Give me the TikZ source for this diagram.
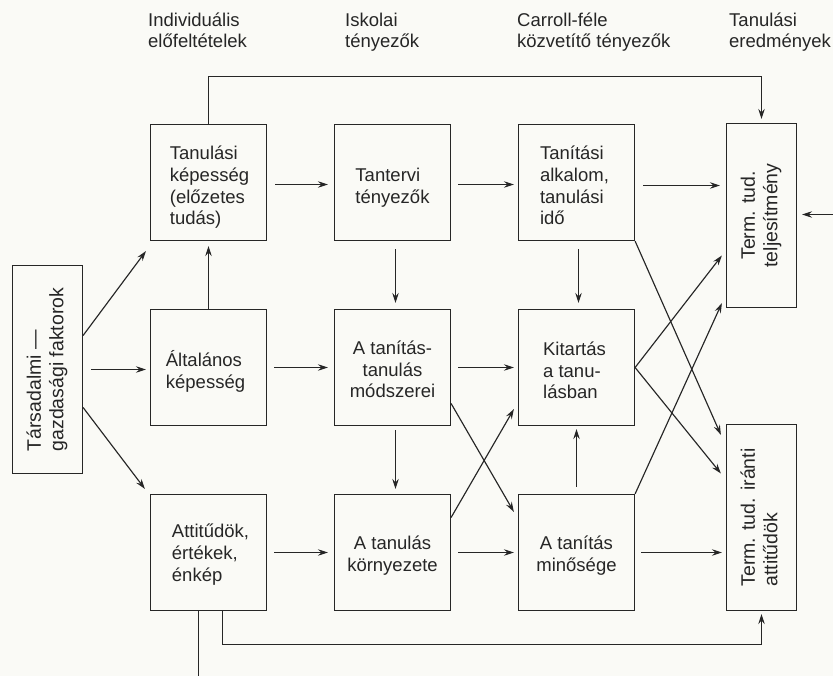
\documentclass[tikz,border=0pt]{standalone}
\usepackage{fontspec}
\usepackage{graphicx}
\setmainfont{Liberation Sans}
\usetikzlibrary{arrows.meta,calc}
\definecolor{ink}{RGB}{38,38,38}
\definecolor{paper}{RGB}{250,250,246}
\begin{document}
\begin{tikzpicture}[x=1pt,y=-1pt,
  every node/.style={text=ink},
  box/.style={draw=ink, line width=1.2pt, minimum width=116pt, minimum height=116pt, inner sep=0pt},
  tallbox/.style={draw=ink, line width=1.2pt, minimum width=70pt, inner sep=0pt,
    font=\fontsize{19.5}{22.5}\selectfont},
  txt/.style={inner sep=0pt, font=\fontsize{18.5}{21.7}\selectfont},
  arr/.style={draw=ink, line width=1.15pt, -{Stealth[length=10pt,width=6.5pt,inset=3.5pt]}},
  ln/.style={draw=ink, line width=1.15pt},
  head/.style={anchor=north west, align=left, inner sep=0pt, font=\fontsize{18.5}{20.5}\selectfont},
]
\fill[paper] (0,0) rectangle (833,676);
\useasboundingbox (0,0) rectangle (833,676);

% headers
\node[head] (h1) at (148,13) {Individuális\\előfeltételek};
\node[head] (h2) at (345,13) {Iskolai\\tényezők};
\node[head] (h3) at (517,13) {Carroll-féle\\közvetítő tényezők};
\node[head] (h4) at (729,13) {Tanulási\\eredmények};

% left box
\node[tallbox, minimum height=208pt] (ts) at (47.5,369.5)
  {\rotatebox{90}{\begin{tabular}{@{}l@{}}Társadalmi —\\gazdasági faktorok\end{tabular}}};

% boxes
\node[box] (tk) at (208.5,182.5) {};
\node[box] (al) at (208.5,367.5) {};
\node[box] (at) at (208.5,552.5) {};
\node[box] (tt) at (392.5,182.5) {};
\node[box] (mod) at (392.5,367.5) {};
\node[box] (ke) at (392.5,552.5) {};
\node[box] (ta) at (576.5,182.5) {};
\node[box] (ki) at (576.5,367.5) {};
\node[box] (mi) at (576.5,552.5) {};

% box texts
\node[txt, align=left] (tkt) at ($(tk)+(1,5)$) {Tanulási\\képesség\\(előzetes\\tudás)};
\node[txt, align=left] (alt) at ($(al)+(-3,4)$) {Általános\\képesség};
\node[txt, align=left] (att) at ($(at)+(2,2)$) {Attitűdök,\\értékek,\\énkép};
\node[txt, align=left] (ttt) at ($(tt)+(0,5)$) {Tantervi\\tényezők};
\node[txt, align=center] (modt) at ($(mod)+(0,2)$) {A tanítás-\\tanulás\\módszerei};
\node[txt, align=center] (ket) at ($(ke)+(0,3)$) {A tanulás\\környezete};
\node[txt, align=left] (tat) at ($(ta)+(-2,3)$) {Tanítási\\alkalom,\\tanulási\\idő};
\node[txt, align=left] (kit) at ($(ki)+(-2,3)$) {Kitartás\\a tanu-\\lásban};
\node[txt, align=center] (mit) at ($(mi)+(0,3)$) {A tanítás\\minősége};

% column 4
\node[tallbox, minimum height=184pt] (tel) at (761.5,215.5)
  {\rotatebox{90}{\begin{tabular}{@{}c@{}}Term. tud.\\teljesítmény\end{tabular}}};
\node[tallbox, minimum height=186pt] (ar) at (761.5,517.5)
  {\rotatebox{90}{\begin{tabular}{@{}l@{}}Term. tud. iránti\\attitűdök\end{tabular}}};

% from left box
\draw[arr] ($(ts.east)+(0,-34)$) -- ($(tk.south west)+(-4,10)$);
\draw[arr, shorten <=8pt, shorten >=4pt] (ts.east) -- (ts.east -| al.west);
\draw[arr] ($(ts.east)+(0,38)$) -- ($(at.north west)+(-5,-5)$);

% column 1
\draw[arr, shorten >=5pt] (al) -- (tk);
\draw[arr, shorten <=8pt, shorten >=6pt] ($(tk.east)+(0,2)$) -- ($(tt.west)+(0,2)$);
\draw[arr, shorten <=7pt, shorten >=6pt] (al) -- (mod);
\draw[arr, shorten <=7pt, shorten >=6pt] (at) -- (ke);

% column 2
\draw[arr, shorten <=7pt, shorten >=4pt] ($(tt.east)+(0,2)$) -- ($(ta.west)+(0,2)$);
\draw[arr, shorten <=7pt, shorten >=4pt] (mod) -- (ki);
\draw[arr, shorten <=7pt, shorten >=4pt] (ke) -- (mi);
\draw[arr, shorten <=8pt, shorten >=6pt] ($(tt.south)+(3,0)$) -- ($(mod.north)+(3,0)$);
\draw[arr, shorten <=4pt, shorten >=5pt] ($(mod.south)+(3,0)$) -- ($(ke.north)+(3,0)$);
\draw[arr] ($(mod.east)+(0,36)$) -- ($(mi.north west)+(-4,18)$);
\draw[arr] ($(ke.east)+(0,-35)$) -- ($(ki.south west)+(-4,-17)$);

% column 3
\draw[arr, shorten <=8pt, shorten >=6pt] ($(ta.south)+(2,0)$) -- ($(ki.north)+(2,0)$);
\draw[arr, shorten <=7pt, shorten >=3pt] (mi) -- (ki);
\draw[arr, shorten <=8pt, shorten >=6pt] ($(ta.east)+(0,3)$) -- ($(ta.east -| tel.west)+(0,3)$);
\draw[arr, shorten <=6pt, shorten >=4pt] (mi.east) -- (mi.east -| ar.west);
\draw[arr] (ki.east) -- ($(tel.west)+(-4,40)$);
\draw[arr] (ki.east) -- ($(ar.west)+(-5,-44)$);
\draw[arr] (ta.south east) -- ($(ar.north west)+(-5,11)$);
\draw[arr] (mi.north east) -- ($(tel.south west)+(-4,-5)$);

% long connectors
\draw[arr, shorten >=4pt] (tk.north) -- ++(0,-47) -| (tel.north);
\draw[arr, shorten >=3pt] ($(at.south)+(14,0)$) -- ++(0,33) -| (ar.south);
\coordinate (bend) at (198.5,676);
\draw[ln] (at.south -| bend) -- (bend);
\coordinate (rin) at (833,214.5);
\draw[arr, shorten >=5pt] (rin) -- (rin -| tel.east);
\end{tikzpicture}
\end{document}
